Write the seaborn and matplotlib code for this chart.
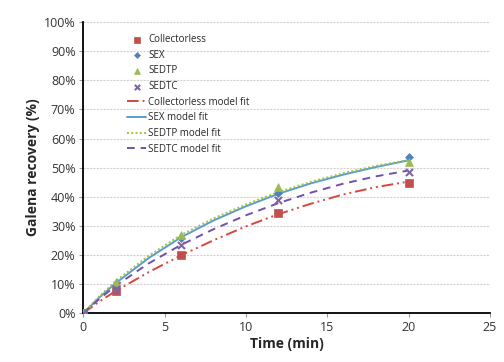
import matplotlib
matplotlib.use("Agg")
import matplotlib.pyplot as plt
import seaborn as sns
import numpy as np
from matplotlib.ticker import PercentFormatter

# experimental data
time_pts = [0, 2, 6, 12, 20]
collectorless = [0, 7.5, 19.9, 34.3, 44.7]
sex = [0, 9.8, 25.9, 41.2, 53.6]
sedtp = [0, 10.8, 26.8, 43.3, 52.0]
sedtc = [0, 8.4, 23.4, 38.8, 48.6]

# model fit curves
fit_time = [0, 1, 2, 4, 6, 8, 10, 12, 14, 16, 18, 20]
collectorless_fit = [0, 4.0, 7.6, 14.0, 19.8, 25.0, 29.8, 34.0, 37.6, 40.8, 43.3, 45.2]
sex_fit = [0, 5.4, 10.3, 18.8, 26.0, 31.8, 36.7, 41.0, 44.6, 47.6, 50.2, 52.5]
sedtp_fit = [0, 5.8, 11.0, 19.6, 26.8, 32.5, 37.3, 41.6, 45.1, 48.1, 50.6, 52.6]
sedtc_fit = [0, 4.9, 9.4, 17.0, 23.4, 28.8, 33.6, 37.8, 41.4, 44.5, 47.0, 49.0]

labels = ["Collectorless", "SEX", "SEDTP", "SEDTC"]
colors = ["#C0504D", "#4F81BD", "#9BBB59", "#8064A2"]
markers = ["s", "D", "^", "x"]
msizes = [32, 16, 32, 26]
linestyles = [(0, (6, 2, 1, 2, 1, 2)), "-", (0, (1, 1.2)), (0, (4, 3))]
fit_colors = ["#D9453F", "#5B9BD5", "#9BC53D", "#7052A8"]

sns.set_style("white")
plt.rcParams["font.family"] = ["Open Sans", "DejaVu Sans"]

fig = plt.figure(figsize=(5.04, 3.62), dpi=100)
ax = fig.add_axes([0.165, 0.135, 0.807, 0.804])

data_series = [collectorless, sex, sedtp, sedtc]
fit_series = [collectorless_fit, sex_fit, sedtp_fit, sedtc_fit]

for lab, ys, c, m, s in zip(labels, data_series, colors, markers, msizes):
    if m == "x":
        sns.scatterplot(x=time_pts, y=ys, ax=ax, color=c, marker=m, s=s,
                        linewidth=1.5, label=lab, zorder=4)
    else:
        sns.scatterplot(x=time_pts, y=ys, ax=ax, color=c, marker=m, s=s,
                        edgecolor=c, linewidth=0.5, label=lab, zorder=4)

for lab, ys, c, ls in zip(labels, fit_series, fit_colors, linestyles):
    sns.lineplot(x=fit_time, y=ys, ax=ax, color=c, linestyle=ls,
                 linewidth=1.4, label=lab + " model fit", zorder=3)

ax.set_xlim(0, 25)
ax.set_ylim(0, 100)
ax.set_xticks([0, 5, 10, 15, 20, 25])
ax.set_yticks(np.arange(0, 101, 10))
ax.yaxis.set_major_formatter(PercentFormatter(decimals=0))
ax.yaxis.grid(True, color="#D2D2D2", linestyle=(0, (2, 1)), linewidth=0.8)
ax.set_axisbelow(True)

for sp in ["top", "right"]:
    ax.spines[sp].set_visible(False)
for sp in ["left", "bottom"]:
    ax.spines[sp].set_color("black")
    ax.spines[sp].set_linewidth(1.3)

ax.tick_params(axis="both", labelsize=9, labelcolor="#333333", color="#999999",
               length=3, width=0.8, direction="out", left=True, bottom=True,
               pad=2.5)
ax.set_xlabel("Time (min)", fontsize=10, fontweight="bold", labelpad=2)
ax.set_ylabel("Galena recovery (%)", fontsize=10, fontweight="bold", labelpad=3)

leg = ax.legend(loc="upper left", bbox_to_anchor=(0.098, 0.972), frameon=False,
                fontsize=7, handlelength=2.0, handletextpad=0.2,
                labelspacing=0.48, borderaxespad=0, markerscale=0.75)

fig.savefig("out.png", dpi=100)
